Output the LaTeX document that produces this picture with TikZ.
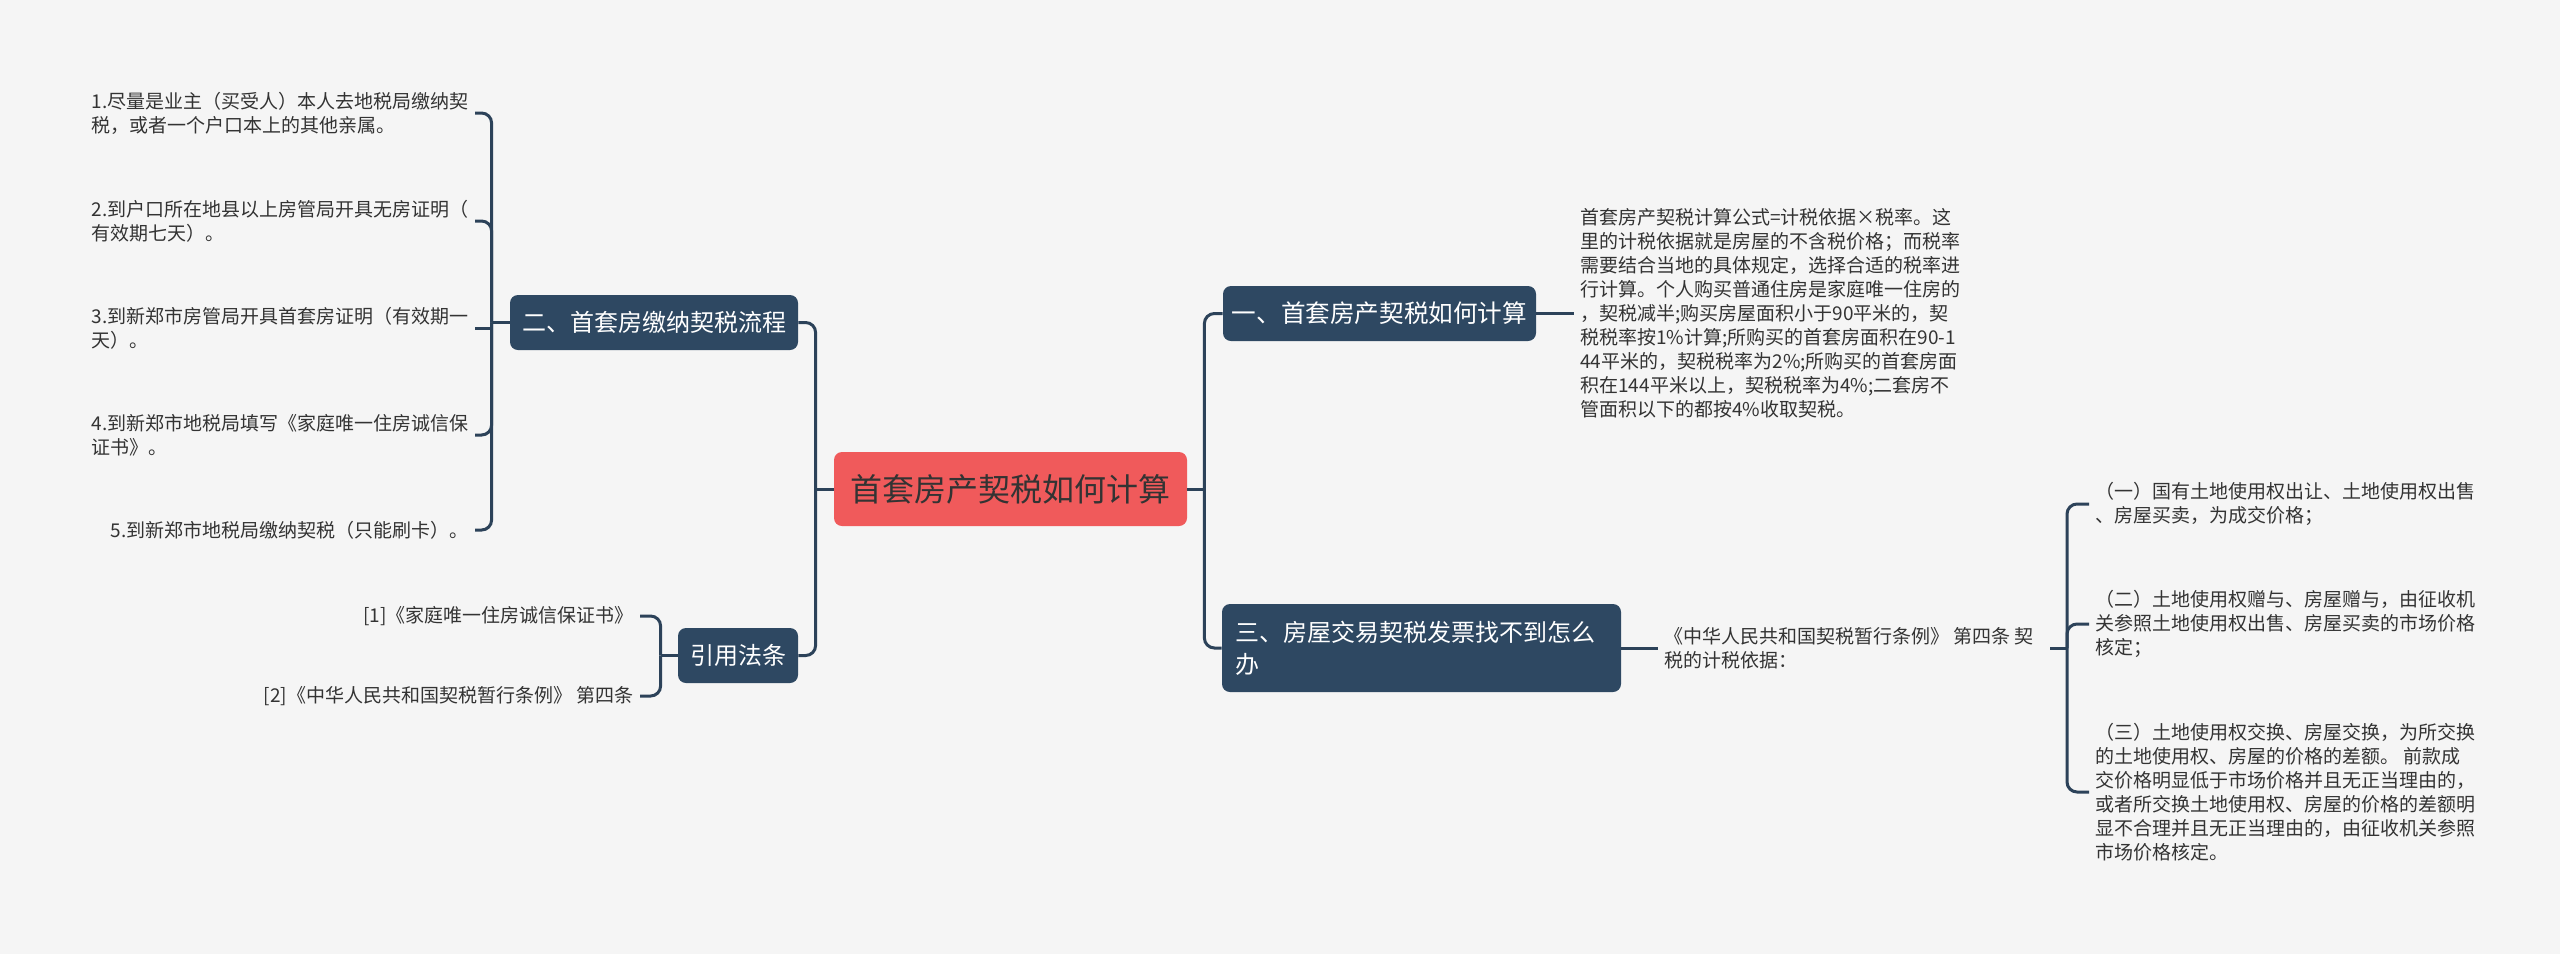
\documentclass[tikz,border=0pt]{standalone}
\usepackage{fontspec}
\setmainfont{Noto Sans CJK SC}
\usetikzlibrary{calc}
\definecolor{bg}{HTML}{F5F5F5}
\definecolor{slate}{HTML}{2E4862}
\definecolor{edge}{HTML}{2C4259}
\definecolor{rootred}{HTML}{F05A5B}
\definecolor{txt}{HTML}{333333}
\begin{document}
\begin{tikzpicture}[x=0.5pt,y=-0.5pt,
  topic/.style={fill=slate, text=white, rounded corners=4pt, inner sep=0pt,
    font=\fontsize{12pt}{16pt}\selectfont},
  leaf/.style={text=txt, align=left, inner xsep=3pt, inner ysep=0pt,
    font=\fontsize{9.5pt}{12pt}\selectfont},
  conn/.style={draw=edge, line width=1.5pt, rounded corners=5pt},
]
\fill[bg] (0,0) rectangle (2560,954);
\useasboundingbox (0,0) rectangle (2560,954);

% central topic
\node[fill=rootred, text=txt, rounded corners=4pt, inner sep=0pt,
  minimum width=176.5pt, minimum height=37pt,
  font=\fontsize{16pt}{16pt}\selectfont] (root) at (1010.5,489) {首套房产契税如何计算};

% main topics
\node[topic, minimum width=156.5pt, minimum height=27.5pt,
  font=\fontsize{12.3pt}{16pt}\selectfont] (n1) at (1379.5,313.5) {一、首套房产契税如何计算};
\node[topic, minimum height=44pt, text width=186.5pt, inner xsep=6.5pt, align=left] (n3) at (1421.5,648)
  {三、房屋交易契税发票找不到怎么\\办};
\node[topic, minimum width=144pt, minimum height=27.5pt] (n2) at (654,322.5) {二、首套房缴纳契税流程};
\node[topic, minimum width=60pt, minimum height=27.5pt] (nref) at (738,655.5) {引用法条};

% junctions
\coordinate (jL) at ($(root.west)+(-18,0)$);
\coordinate (jR) at ($(root.east)+(17,0)$);
\coordinate (jB) at ($(n2.west)+(-18,0)$);
\coordinate (jRef) at ($(nref.west)+(-17,0)$);
\coordinate (jT) at (2067,648);

\draw[conn] (root.west) -- (jL);
\draw[conn] (jL) |- (n2.east);
\draw[conn] (jL) |- (nref.east);
\draw[conn] (root.east) -- (jR);
\draw[conn] (jR) |- (n1.west);
\draw[conn] (jR) |- (n3.west);

% branch 一
\node[leaf, anchor=west] (t1) at (1574,313.5) {首套房产契税计算公式=计税依据×税率。这\\
里的计税依据就是房屋的不含税价格；而税率\\
需要结合当地的具体规定，选择合适的税率进\\
行计算。个人购买普通住房是家庭唯一住房的\\
，契税减半;购买房屋面积小于90平米的，契\\
税税率按1\%计算;所购买的首套房面积在90-1\\
44平米的，契税税率为2\%;所购买的首套房面\\
积在144平米以上，契税税率为4\%;二套房不\\
管面积以下的都按4\%收取契税。};
\draw[conn] (n1.east) -- (t1.west);

% branch 三
\node[leaf, anchor=west] (t3) at (1658,648) {《中华人民共和国契税暂行条例》 第四条 契\\税的计税依据：};
\draw[conn] (n3.east) -- (t3.west);
\draw[conn] (t3.east) ++(10,0) -- (jT);

\node[leaf, anchor=west] (r1) at (2089,504) {（一）国有土地使用权出让、土地使用权出售\\、房屋买卖，为成交价格；};
\node[leaf, anchor=west] (r2) at (2089,624) {（二）土地使用权赠与、房屋赠与，由征收机\\关参照土地使用权出售、房屋买卖的市场价格\\核定；};
\node[leaf, anchor=west] (r3) at (2089,792) {（三）土地使用权交换、房屋交换，为所交换\\
的土地使用权、房屋的价格的差额。 前款成\\
交价格明显低于市场价格并且无正当理由的，\\
或者所交换土地使用权、房屋的价格的差额明\\
显不合理并且无正当理由的，由征收机关参照\\
市场价格核定。};
\draw[conn] (jT) |- (r1.west);
\draw[conn] (jT) |- (r2.west);
\draw[conn] (jT) |- (r3.west);

% branch 二
\node[leaf, anchor=east] (i1) at (475,113) {1.尽量是业主（买受人）本人去地税局缴纳契\\税，或者一个户口本上的其他亲属。};
\node[leaf, anchor=east] (i2) at (475,221) {2.到户口所在地县以上房管局开具无房证明（\\有效期七天）。};
\node[leaf, anchor=east] (i3) at (475,328) {3.到新郑市房管局开具首套房证明（有效期一\\天）。};
\node[leaf, anchor=east] (i4) at (475,435) {4.到新郑市地税局填写《家庭唯一住房诚信保\\证书》。};
\node[leaf, anchor=east] (i5) at (475,530) {5.到新郑市地税局缴纳契税（只能刷卡）。};
\draw[conn] (n2.west) -- (jB);
\draw[conn] (jB) |- (i1.east);
\draw[conn] (jB) |- (i2.east);
\draw[conn] (i3.east) -- (i3.east -| jB);
\draw[conn] (jB) |- (i4.east);
\draw[conn] (jB) |- (i5.east);

% references
\node[leaf, anchor=east] (ref1) at (640,616) {[1]《家庭唯一住房诚信保证书》};
\node[leaf, anchor=east] (ref2) at (640,696) {[2]《中华人民共和国契税暂行条例》 第四条};
\draw[conn] (nref.west) -- (jRef);
\draw[conn] (jRef) |- (ref1.east);
\draw[conn] (jRef) |- (ref2.east);
\end{tikzpicture}
\end{document}
